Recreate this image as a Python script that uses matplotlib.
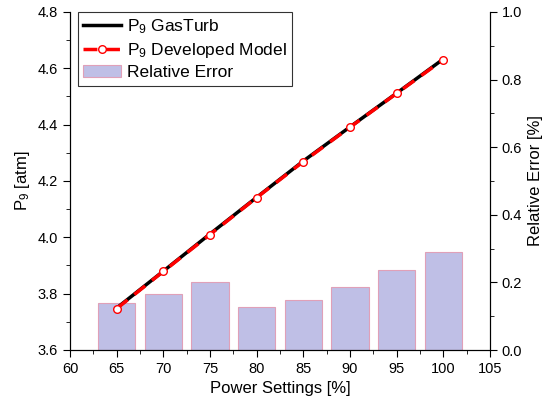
import numpy as np
import matplotlib.pyplot as plt
from matplotlib.ticker import MultipleLocator

power = [65, 70, 75, 80, 85, 90, 95, 100]
p9_gasturb = [3.749, 3.880, 4.012, 4.142, 4.271, 4.392, 4.512, 4.633]
p9_model = [3.747, 3.879, 4.010, 4.141, 4.269, 4.391, 4.511, 4.631]
rel_error = [0.139, 0.166, 0.200, 0.128, 0.147, 0.186, 0.237, 0.289]

plt.rcParams['font.family'] = ['Liberation Sans', 'DejaVu Sans']
plt.rcParams['font.size'] = 10.5
plt.rcParams['mathtext.fontset'] = 'custom'
plt.rcParams['mathtext.rm'] = 'Liberation Sans'
plt.rcParams['mathtext.it'] = 'Liberation Sans'

fig = plt.figure(figsize=(5.44, 4.07), dpi=100)
ax = fig.add_axes([70/544, 57/407, 420/544, 338/407])
ax2 = ax.twinx()

bars = ax2.bar(power, rel_error, width=4, color='#bfbfe6', edgecolor='#e0a0b8',
               linewidth=0.8, label='Relative Error', zorder=1)
ax2.set_ylim(0, 1.0)
ax2.yaxis.set_major_locator(MultipleLocator(0.2))
ax2.yaxis.set_minor_locator(MultipleLocator(0.1))
ax2.set_ylabel('Relative Error [%]', fontsize=12)

ax.set_zorder(ax2.get_zorder() + 1)
ax.patch.set_visible(False)
l1, = ax.plot(power, p9_gasturb, color='black', lw=2.5, label='P$_9$ GasTurb')
l2, = ax.plot(power, p9_model, color='red', lw=2.5, ls=(0, (4, 2.5)), marker='o',
              markersize=5.5, markerfacecolor='white', markeredgecolor='red',
              markeredgewidth=1, label='P$_9$ Developed Model')

ax.set_xlim(60, 105)
ax.set_ylim(3.6, 4.8)
ax.xaxis.set_major_locator(MultipleLocator(5))
ax.xaxis.set_minor_locator(MultipleLocator(2.5))
ax.yaxis.set_major_locator(MultipleLocator(0.2))
ax.yaxis.set_minor_locator(MultipleLocator(0.1))
ax.set_xlabel('Power Settings [%]', fontsize=12)
ax.set_ylabel('P$_{\\mathregular{9}}$ [atm]', fontsize=12)

for a in (ax, ax2):
    a.spines['top'].set_visible(False)
    a.tick_params(which='major', length=5, direction='out')
    a.tick_params(which='minor', length=3, direction='out')

leg = ax.legend([l1, l2, bars], ['P$_9$ GasTurb', 'P$_9$ Developed Model', 'Relative Error'],
                loc='upper left', bbox_to_anchor=(0.019, 1.0), borderaxespad=0,
                fancybox=False, edgecolor='black', fontsize=12.5, handlelength=2.2,
                borderpad=0.3, labelspacing=0.3, handletextpad=0.3)
leg.get_frame().set_linewidth(0.8)

fig.savefig('out.png', dpi=100)
